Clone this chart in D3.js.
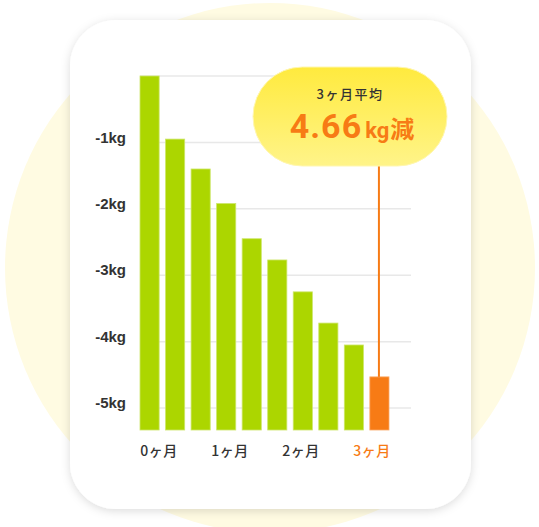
<!DOCTYPE html>
<html><head><meta charset="utf-8">
<script src="https://cdn.jsdelivr.net/npm/d3@7"></script>
<style>html,body{margin:0;padding:0;background:#fff;}svg{display:block;}</style>
</head><body>
<svg id="c" width="539" height="527"></svg>
<script>
const barIndex = [0,1,2,3,4,5,6,7,8,9];
const barValues = [0, -0.95, -1.40, -1.92, -2.45, -2.77, -3.25, -3.72, -4.05, -4.53];
const yTicks = [-1, -2, -3, -4, -5];
const yTickLabels = ["-1kg", "-2kg", "-3kg", "-4kg", "-5kg"];
const monthLabels = ["0ヶ月", "1ヶ月", "2ヶ月", "3ヶ月"];
const calloutTitle = "3ヶ月平均";
const calloutValue = "4.66";
const calloutUnit = "kg";
const calloutSuffix = "減";

const svg = d3.select("#c");
const defs = svg.append("defs");
const sh = defs.append("filter").attr("id","sh").attr("x","-20%").attr("y","-20%").attr("width","140%").attr("height","140%");
sh.append("feDropShadow").attr("dx",0).attr("dy",2).attr("stdDeviation",5).attr("flood-color","#000").attr("flood-opacity",0.14);
const g1 = defs.append("linearGradient").attr("id","bub").attr("x1",0).attr("y1",0).attr("x2",0).attr("y2",1);
g1.append("stop").attr("offset","0%").attr("stop-color","#ffea3e");
g1.append("stop").attr("offset","100%").attr("stop-color","#fff489");

// background circle
svg.append("circle").attr("cx",270).attr("cy",268).attr("r",265).attr("fill","#fffbe2");
// card
svg.append("rect").attr("x",70).attr("y",20).attr("width",401).attr("height",489).attr("rx",46).attr("fill","#fff").attr("filter","url(#sh)");

const y = d3.scaleLinear().domain([0, -5.33]).range([76, 430]);
const x = d3.scaleBand().domain(barIndex).range([140, 389]).paddingInner(0.25).paddingOuter(0);
const xm = d3.scalePoint().domain(monthLabels).range([159, 372]);

// gridlines
svg.append("g").selectAll("line").data([0].concat(yTicks)).join("line")
  .attr("x1",140).attr("x2",411).attr("y1",d=>y(d)).attr("y2",d=>y(d))
  .attr("stroke","#e8e8e8").attr("stroke-width",1.5);

// y labels
svg.append("g").selectAll("text").data(yTicks).join("text")
  .attr("x",126).attr("y",d=>y(d)-5).attr("dy","0.35em").attr("text-anchor","end")
  .attr("font-family","'Liberation Sans', Arial, sans-serif").attr("font-weight","bold").attr("font-size",15)
  .attr("fill","#333").text((d,i)=>yTickLabels[i]);

// bars
const last = barIndex.length-1;
svg.append("g").selectAll("rect").data(barIndex).join("rect")
  .attr("x",d=>x(d)).attr("width",x.bandwidth())
  .attr("y",d=>y(barValues[d])).attr("height",d=>y(-5.33)-y(barValues[d]))
  .attr("fill",d=>d===last?"#f77b15":"#acd600")
  .attr("stroke",d=>d===last?"#fbab6a":"#cde66a").attr("stroke-width",0.8);

// month labels
svg.append("g").selectAll("text").data(monthLabels).join("text")
  .attr("x",d=>xm(d)).attr("y",456).attr("text-anchor","middle")
  .attr("font-family","'Noto Sans CJK JP', sans-serif").attr("font-weight",500).attr("font-size",14)
  .attr("letter-spacing",0.5)
  .attr("fill",(d,i)=>i===monthLabels.length-1?"#f77b15":"#333")
  .text(d=>d);

// connector line
const lx = x(last)+x.bandwidth()/2 - 0.5;
svg.append("line").attr("x1",lx).attr("x2",lx).attr("y1",160).attr("y2",y(barValues[last]))
  .attr("stroke","#f77b15").attr("stroke-width",2);

// bubble
svg.append("rect").attr("x",253).attr("y",67).attr("width",194).attr("height",99).attr("rx",49.5)
  .attr("fill","url(#bub)").attr("stroke","#fff7b0").attr("stroke-width",1);
svg.append("text").attr("x",350).attr("y",99).attr("text-anchor","middle")
  .attr("font-family","'Noto Sans CJK JP', sans-serif").attr("font-weight",500).attr("font-size",13)
  .attr("letter-spacing",1.5).attr("fill","#333").text(calloutTitle);

const t2 = svg.append("text").attr("x",352).attr("y",138).attr("text-anchor","middle")
  .attr("font-family","Roboto, 'Noto Sans CJK JP', sans-serif").attr("font-weight","bold").attr("fill","#f77b15");
t2.append("tspan").attr("font-size",34).attr("letter-spacing",1).text(calloutValue);
t2.append("tspan").attr("font-size",22).attr("dx",3).text(calloutUnit);
t2.append("tspan").attr("font-family","'Noto Sans CJK JP', sans-serif").attr("font-size",24).attr("dx",1).text(calloutSuffix);
</script>
</body></html>
